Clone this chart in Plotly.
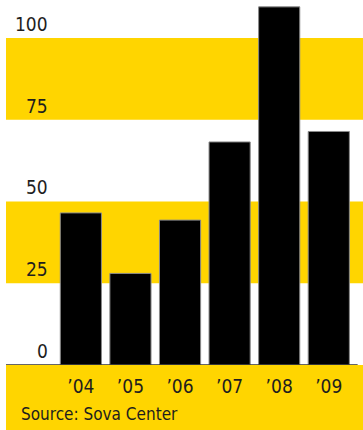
import plotly.graph_objects as go

categories = ["\u201904", "\u201905", "\u201906", "\u201907", "\u201908", "\u201909"]
values = [46.5, 28, 44.3, 68.2, 109.5, 71.4]
ytick_vals = [0, 25, 50, 75, 100]
ytick_text = ["0", "25", "50", "75", "100"]
bands = [(25, 50), (75, 100)]
source = "Source: Sova Center"

FONT = "DejaVu Sans Condensed, Liberation Sans Narrow, Arial Narrow, sans-serif"
YELLOW = "#FFD500"
TXT = "#1e1e1e"

fig = go.Figure(go.Bar(
    x=categories, y=values,
    marker=dict(color="#000000", line=dict(color="#8a8a8a", width=1)),
))

shapes = []
for lo, hi in bands:
    shapes.append(dict(type="rect", xref="paper", yref="y", x0=0, x1=1, y0=lo, y1=hi,
                       fillcolor=YELLOW, line=dict(width=0), layer="below"))
shapes.append(dict(type="rect", xref="paper", yref="paper", x0=0, x1=1, y0=-0.2, y1=0,
                   fillcolor=YELLOW, line=dict(width=0), layer="below"))
shapes.append(dict(type="line", xref="paper", yref="y", x0=0, x1=0.985, y0=0, y1=0,
                   line=dict(color="#333333", width=1.5)))

annotations = []
for v, t in zip(ytick_vals, ytick_text):
    annotations.append(dict(x=0.1235, xref="paper", y=v, yref="y", text=t, showarrow=False,
                            xanchor="right", yanchor="middle", yshift=14,
                            font=dict(family=FONT, size=19, color=TXT)))
annotations.append(dict(x=0.036, xref="paper", y=-0.135, yref="paper", text=source,
                        showarrow=False, xanchor="left", yanchor="middle",
                        font=dict(family=FONT, size=17, color=TXT)))

fig.update_layout(
    width=363, height=430,
    margin=dict(l=6, r=0, t=0, b=65),
    paper_bgcolor="white", plot_bgcolor="white",
    showlegend=False,
    bargap=0.17,
    shapes=shapes, annotations=annotations,
    xaxis=dict(range=[-1.51, 5.69], showgrid=False, zeroline=False, showline=False,
               tickfont=dict(family=FONT, size=19, color=TXT), ticks="outside",
               ticklen=4, tickcolor="rgba(0,0,0,0)", fixedrange=True),
    yaxis=dict(range=[0, 111.6], showgrid=False, zeroline=False, showline=False,
               showticklabels=False, fixedrange=True),
)

fig.write_html("out.html")
